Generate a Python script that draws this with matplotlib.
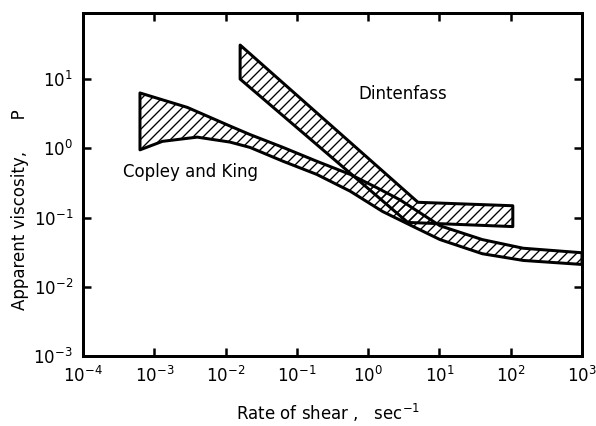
import matplotlib
matplotlib.use("Agg")
import matplotlib.pyplot as plt
from matplotlib.ticker import LogFormatterMathtext, NullLocator

# ---- data (log-log) ----
cop_upper_x = [6.3e-4, 2.9e-3, 0.0115, 0.022, 0.064, 0.19, 0.56, 1.32, 2.8, 10.2, 40, 150, 1000]
cop_upper_y = [6.3, 3.9, 2.1, 1.58, 1.03, 0.65, 0.42, 0.27, 0.18, 0.076, 0.048, 0.036, 0.031]
cop_lower_x = [6.3e-4, 1.3e-3, 4.0e-3, 0.0115, 0.022, 0.064, 0.19, 0.56, 1.6, 4.3, 10.2, 40, 150, 1000]
cop_lower_y = [0.95, 1.26, 1.45, 1.23, 1.03, 0.65, 0.42, 0.24, 0.122, 0.074, 0.048, 0.030, 0.024, 0.021]

din_upper_x = [0.016, 5.0, 107]
din_upper_y = [31, 0.166, 0.148]
din_lower_x = [0.016, 3.6, 107]
din_lower_y = [10, 0.085, 0.074]

x_ticks = [1e-4, 1e-3, 1e-2, 1e-1, 1e0, 1e1, 1e2, 1e3]
y_ticks = [1e-3, 1e-2, 1e-1, 1e0, 1e1]

DPI = 120
plt.rcParams['hatch.linewidth'] = 0.8
plt.rcParams['font.family'] = ['DejaVu Sans']
plt.rcParams['mathtext.fontset'] = 'dejavusans'

fig = plt.figure(figsize=(596 / DPI, 426 / DPI), dpi=DPI)
ax = fig.add_axes([83 / 596, 1 - 356 / 426, (582 - 83) / 596, (356 - 13) / 426])
ax.set_xscale('log')
ax.set_yscale('log')
ax.set_xlim(1e-4, 1e3)
ax.set_ylim(1e-3, 90)


def band(ux, uy, lx, ly):
    xs = list(ux) + list(lx)[::-1]
    ys = list(uy) + list(ly)[::-1]
    return xs, ys


xs, ys = band(cop_upper_x, cop_upper_y, cop_lower_x, cop_lower_y)
ax.fill(xs, ys, facecolor='white', edgecolor='black', hatch='////', linewidth=1.8,
        joinstyle='round', zorder=2)
xs, ys = band(din_upper_x, din_upper_y, din_lower_x, din_lower_y)
ax.fill(xs, ys, facecolor='none', edgecolor='black', hatch='////', linewidth=1.8,
        joinstyle='round', zorder=3)

ax.text(3.2e-3, 0.45, 'Copley and King', fontsize=10, ha='center', va='center')
ax.text(3.1, 6.0, 'Dintenfass', fontsize=10, ha='center', va='center')

ax.set_xticks(x_ticks)
ax.set_yticks(y_ticks)
ax.xaxis.set_minor_locator(NullLocator())
ax.yaxis.set_minor_locator(NullLocator())
ax.xaxis.set_major_formatter(LogFormatterMathtext())
ax.yaxis.set_major_formatter(LogFormatterMathtext())
ax.tick_params(which='major', direction='in', length=5, width=1.5,
               top=True, right=True, labelsize=10, pad=6)
for s in ax.spines.values():
    s.set_linewidth(1.8)

fig.text(328 / 596, 1 - 413 / 426, r'Rate of shear ,   sec$^{-1}$', fontsize=10,
         ha='center', va='center')
fig.text(20 / 596, 1 - 210 / 426, 'Apparent viscosity,      P', fontsize=10,
         ha='center', va='center', rotation=90)

fig.savefig('out.png', dpi=DPI, facecolor='white')
